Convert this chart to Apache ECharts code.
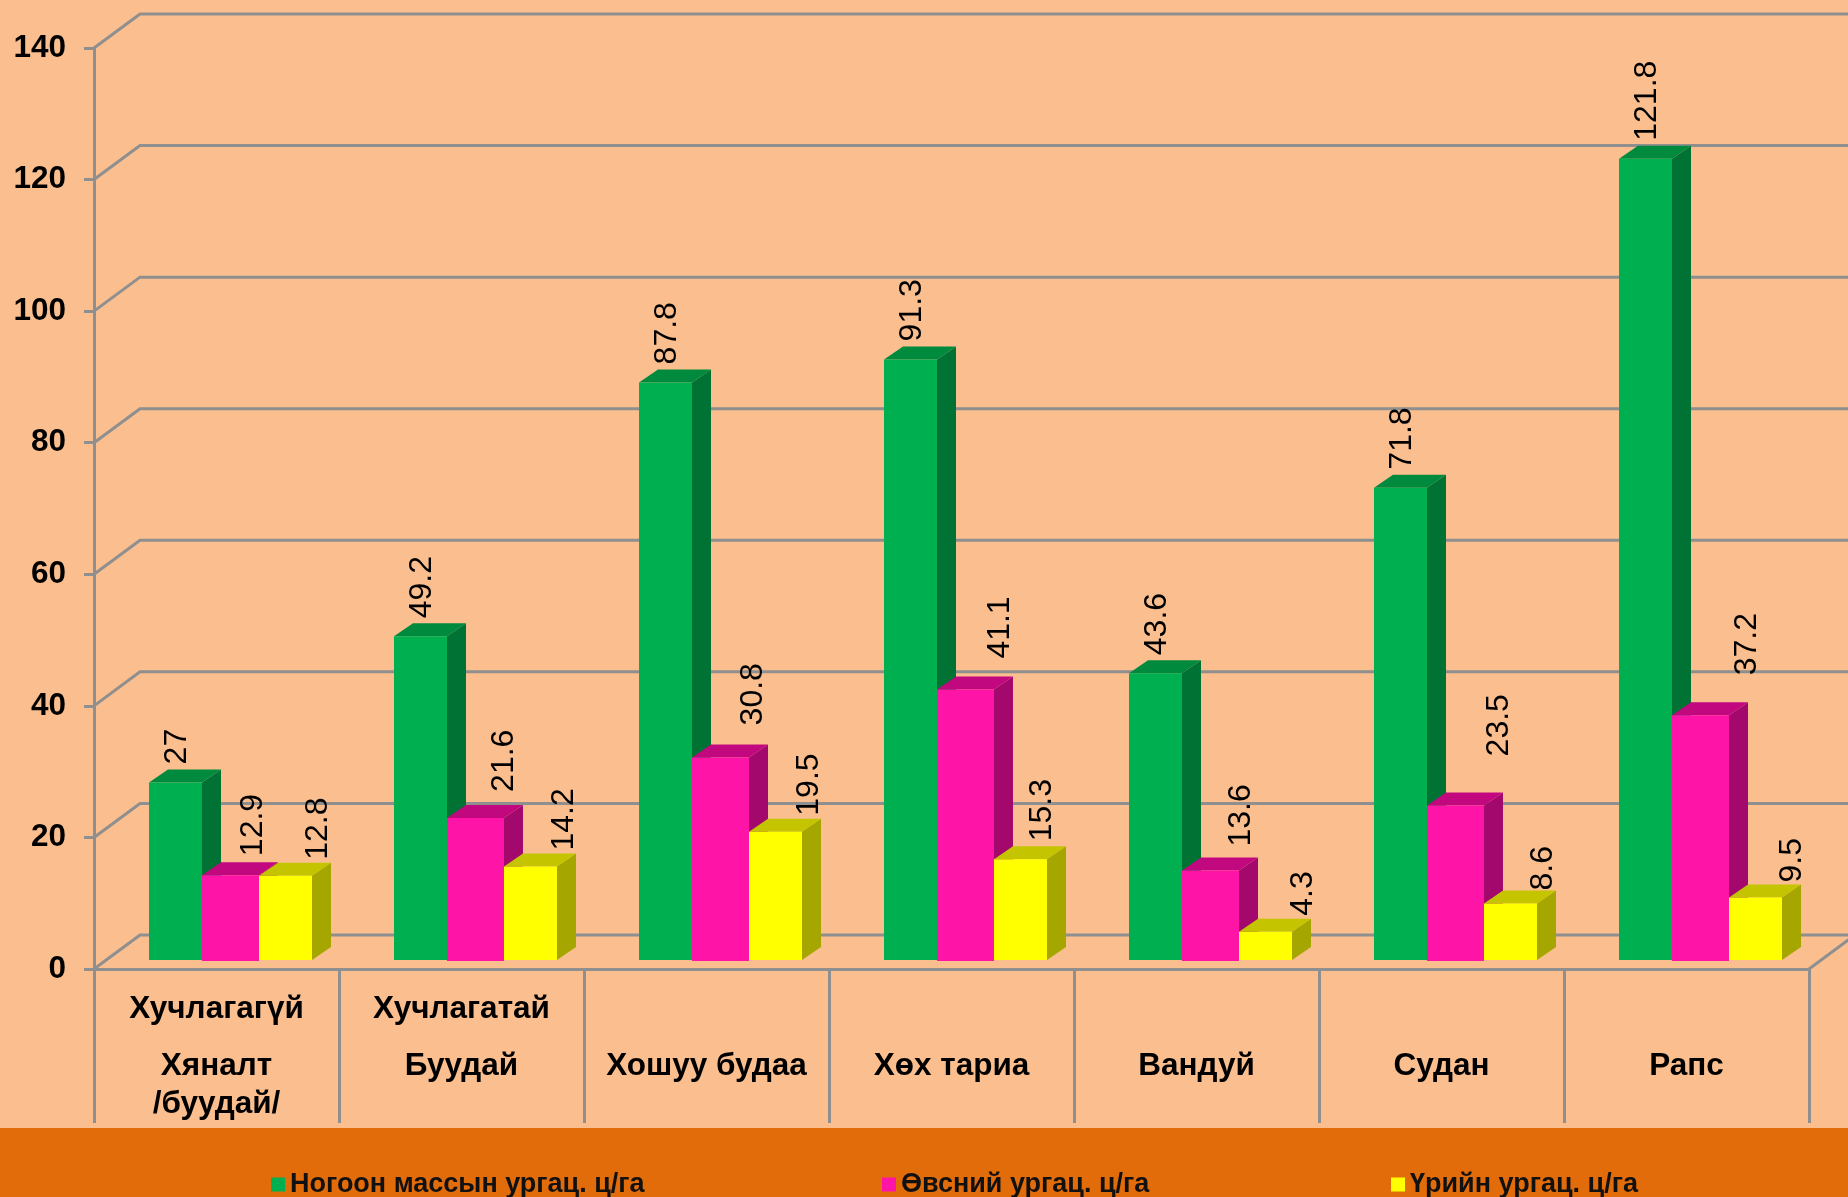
<!DOCTYPE html>
<html><head><meta charset="utf-8">
<style>html,body{margin:0;padding:0;background:#FBBF8F}#c{width:1848px;height:1197px}</style>
<script src="https://cdn.jsdelivr.net/npm/echarts@6/dist/echarts.min.js"></script>
</head><body><div id="c"></div>
<script>
const categories = ['Хяналт\n/буудай/','Буудай','Хошуу будаа','Хөх тариа','Вандуй','Судан','Рапс'];
const subCategories = ['Хучлагагүй','Хучлагатай','','','','',''];
const yTicks = [0,20,40,60,80,100,120,140];
const greenMass = [27,49.2,87.8,91.3,43.6,71.8,121.8];
const fodder = [12.9,21.6,30.8,41.1,13.6,23.5,37.2];
const seed = [12.8,14.2,19.5,15.3,4.3,8.6,9.5];
const seriesNames = ['Ногоон массын ургац. ц/га','Өвсний ургац. ц/га','Үрийн ургац. ц/га'];

// styling and layout only
const FONT = '"Liberation Sans", Arial, sans-serif';
const GRID_COLOR = '#8f8f8f';
const palette = [
  {front:'#00B050',side:'#007233',top:'#008A3E'},
  {front:'#FF14A8',side:'#A3096C',top:'#C2087F'},
  {front:'#FFFF00',side:'#A6A600',top:'#C4C400'}
];
const BAR = {start:[55,108,165], width:[53,57,53], lift:9, dx:19, dy:13};
const WALL = {dx:46, dy:34};
// hand-placed label offsets of the original: [shift right from bar centre, gap above bar]
const labelShift = [
  [2,2,2,2,2,2,2],
  [23,29,33,35,31,44,47],
  [33,34,34,22,38,33,37]
];
const labelGap = [
  [18,18,18,18,18,18,18],
  [19,26,32,31,24,49,40],
  [16,16,16,18,16,13,15]
];

function gridItem(params, api){
  const y = api.coord([0, api.value(0)])[1];
  const x0 = params.coordSys.x;
  return {type:'polyline',silent:true,shape:{points:[[x0,y],[x0+WALL.dx,y-WALL.dy],[1860,y-WALL.dy]]},
    style:{stroke:GRID_COLOR,lineWidth:3,fill:null}};
}
function floorEnd(params){
  const cs = params.coordSys, r = cs.x+cs.width, b = cs.y+cs.height;
  return {type:'line', silent:true, shape:{x1:r,y1:b,x2:r+WALL.dx,y2:b-WALL.dy},
    style:{stroke:GRID_COLOR,lineWidth:3}};
}
function barItem(si){
  return function(params, api){
    const i = api.value(0), v = api.value(1);
    const catW = api.size([1,0])[0];
    const cs = params.coordSys;
    const x1 = cs.x + catW*i + BAR.start[si];
    const x2 = x1 + BAR.width[si];
    const yBase = api.coord([i,0])[1] - BAR.lift;
    const yTop = api.coord([i,v])[1] - BAR.lift;
    const c = palette[si], d = BAR.dx, e = BAR.dy;
    const poly = (pts,fill)=>({type:'polygon',shape:{points:pts},style:{fill:fill}});
    return {type:'group',children:[
      poly([[x2,yBase],[x2+d,yBase-e],[x2+d,yTop-e],[x2,yTop]],c.side),
      poly([[x1,yTop],[x1+d,yTop-e],[x2+d,yTop-e],[x2,yTop]],c.top),
      {type:'rect',shape:{x:x1,y:yTop,width:x2-x1,height:yBase-yTop + (si===1?1:0)},style:{fill:c.front}},
      {type:'text',x:(x1+x2)/2+labelShift[si][i],y:yTop-labelGap[si][i],rotation:Math.PI/2,z2:50,
       style:{text:String(v),font:'32px '+FONT,fill:'#000',textAlign:'left',textVerticalAlign:'middle'}}
    ]};
  };
}
const pairs = a => a.map((v,i)=>[i,v]);
const valuesBySeries = [greenMass,fodder,seed];

const option = {
  animation:false,
  backgroundColor:'#FBBF8F',
  graphic:[{type:'rect',z:-10,shape:{x:0,y:1128,width:1848,height:69},style:{fill:'#E36C0A'}}],
  legend:[271,882,1391].map((left,i)=>({
    data:[seriesNames[i]],left:left,top:1171,padding:0,itemWidth:14,itemHeight:14,itemGap:6,
    icon:'rect',selectedMode:false,
    textStyle:{fontFamily:FONT,fontWeight:'bold',fontSize:27,color:'#111',padding:[2,0,0,0]}
  })),
  grid:{left:94,top:48,width:1715,height:921,containLabel:false},
  xAxis:[
    {type:'category',data:subCategories,position:'bottom',boundaryGap:true,
     axisLine:{show:true,lineStyle:{color:GRID_COLOR,width:3}},
     axisTick:{show:true,length:154,interval:0,lineStyle:{color:GRID_COLOR,width:3}},
     axisLabel:{interval:0,margin:24,verticalAlign:'top',fontFamily:FONT,fontWeight:'bold',fontSize:31.5,color:'#000'}},
    {type:'category',data:categories,position:'bottom',boundaryGap:true,
     axisLine:{show:false},axisTick:{show:false},
     axisLabel:{interval:0,margin:78,verticalAlign:'top',lineHeight:38,fontFamily:FONT,fontWeight:'bold',fontSize:31.5,color:'#000'}}
  ],
  yAxis:{type:'value',min:0,max:140,interval:20,
    axisLine:{show:true,lineStyle:{color:GRID_COLOR,width:3}},
    axisTick:{show:true,length:10,lineStyle:{color:GRID_COLOR,width:3}},
    splitLine:{show:false},
    axisLabel:{margin:28,fontFamily:FONT,fontWeight:'bold',fontSize:31.5,color:'#000'}},
  series:[
    {type:'custom',name:'grid',coordinateSystem:'cartesian2d',xAxisIndex:0,silent:true,z:1,clip:false,
     renderItem:gridItem,data:yTicks.map(t=>[t]),encode:{y:0}},
    {type:'custom',name:'floor',coordinateSystem:'cartesian2d',xAxisIndex:0,silent:true,z:1,clip:false,
     renderItem:floorEnd,data:[[0]]}
  ].concat(seriesNames.map((n,si)=>({
     type:'custom',name:n,coordinateSystem:'cartesian2d',xAxisIndex:0,z:2+si,clip:false,
     itemStyle:{color:palette[si].front},
     renderItem:barItem(si),data:pairs(valuesBySeries[si]),encode:{x:0,y:1}
  })))
};
echarts.init(document.getElementById('c'),null,{renderer:'canvas'}).setOption(option);
</script></body></html>
